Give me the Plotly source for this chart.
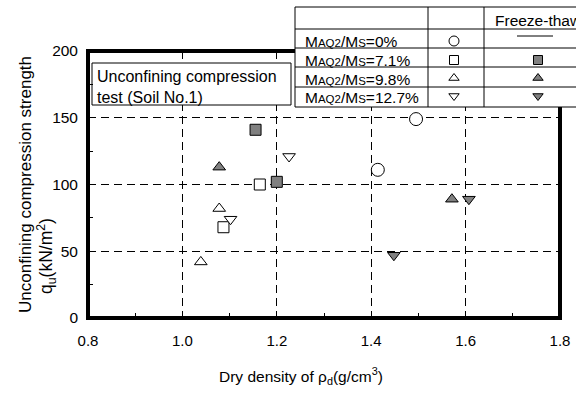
import plotly.graph_objects as go

# ---------------- data ----------------
x_0_unf = [1.495, 1.414]
y_0_unf = [149, 111]
x_71_unf = [1.164, 1.087]
y_71_unf = [100, 68]
x_71_ft = [1.155, 1.200]
y_71_ft = [141, 102]
x_98_unf = [1.078, 1.039]
y_98_unf = [82, 42]
x_98_ft = [1.078, 1.571]
y_98_ft = [113, 89]
x_127_unf = [1.102, 1.226]
y_127_unf = [74, 121]
x_127_ft = [1.607, 1.448]
y_127_ft = [89, 47]

row_labels = ["0%", "7.1%", "9.8%", "12.7%"]
x_range = [0.8, 1.8]
y_range = [0, 200]

# ---------------- layout geometry (pixels) ----------------
W, H = 576, 394
PL, PR, PT, PB = 88, 560, 51, 318
FONT = "Liberation Sans, Arial, sans-serif"
GRAY = "#808080"


def fx(x):  # pixel -> paper (whole figure, margins are zero)
    return x / W


def fy(y):
    return 1 - y / H


def dx(x):  # pixel -> data
    return x_range[0] + (x - PL) / (PR - PL) * (x_range[1] - x_range[0])


def dy(y):
    return y_range[0] + (PB - y) / (PB - PT) * (y_range[1] - y_range[0])


fig = go.Figure()


def add_series(xs, ys, symbol, fill, size, xa="x", ya="y"):
    fig.add_trace(go.Scatter(
        x=xs, y=ys, mode="markers", showlegend=False, cliponaxis=False,
        xaxis=xa, yaxis=ya,
        marker=dict(symbol=symbol, size=size, color=fill,
                    line=dict(color="black", width=1)),
    ))


add_series(x_0_unf, y_0_unf, "circle", "white", 13)
add_series(x_71_unf, y_71_unf, "square", "white", 11)
add_series(x_71_ft, y_71_ft, "square", GRAY, 11)
add_series(x_98_unf, y_98_unf, "triangle-up", "white", 11)
add_series(x_98_ft, y_98_ft, "triangle-up", GRAY, 11)
add_series(x_127_unf, y_127_unf, "triangle-down", "white", 11)
add_series(x_127_ft, y_127_ft, "triangle-down", GRAY, 11)

# ---------------- legend table ----------------
TL, TR, TT, TB = 295, 600, 7, 107
col_lines = [428, 484]
row_lines = [29, 48, 67, 87]
key_rows_y = [41, 60, 78, 96]
col2_x, col3_x = 454, 538

shapes = []
# white backgrounds covering gridlines
shapes.append(dict(type="rect", xref="x", yref="y", layer="between",
                   x0=dx(TL), x1=dx(TR), y0=dy(TB), y1=dy(TT),
                   fillcolor="white", line=dict(width=0)))
# text box
BL, BR, BT, BB = 92, 291, 63, 105
shapes.append(dict(type="rect", xref="x", yref="y", layer="between",
                   x0=dx(BL), x1=dx(BR), y0=dy(BB), y1=dy(BT),
                   fillcolor="white", line=dict(color="black", width=1)))
# table outline & grid
shapes.append(dict(type="rect", xref="paper", yref="paper", layer="above",
                   x0=fx(TL), x1=fx(TR), y0=fy(TB), y1=fy(TT),
                   line=dict(color="black", width=1)))
for c in col_lines:
    shapes.append(dict(type="line", xref="paper", yref="paper", layer="above",
                       x0=fx(c), x1=fx(c), y0=fy(TB), y1=fy(TT),
                       line=dict(color="black", width=1)))
for r in row_lines:
    shapes.append(dict(type="line", xref="paper", yref="paper", layer="above",
                       x0=fx(TL), x1=fx(TR), y0=fy(r), y1=fy(r),
                       line=dict(color="black", width=1)))
# freeze-thaw "none" dash for 0 %
shapes.append(dict(type="line", xref="paper", yref="paper", layer="above",
                   x0=fx(517), x1=fx(553), y0=fy(36), y1=fy(36),
                   line=dict(color="black", width=1)))
# thick plot frame (top stops at table, right starts below table)
path = (f"M {fx(TL)},{fy(PT)} L {fx(PL)},{fy(PT)} L {fx(PL)},{fy(PB)} "
        f"L {fx(PR)},{fy(PB)} L {fx(PR)},{fy(TB)}")
shapes.append(dict(type="path", xref="paper", yref="paper", layer="above",
                   path=path, line=dict(color="black", width=4)))

# legend keys (drawn on a full-figure helper axis pair, in pixels)
key_unf = [("circle", "white", 10), ("square", "white", 9),
           ("triangle-up", "white", 9), ("triangle-down", "white", 9)]
key_ft = [None, ("square", GRAY, 9), ("triangle-up", GRAY, 9),
          ("triangle-down", GRAY, 9)]
for i, ky in enumerate(key_rows_y):
    s, f, sz = key_unf[i]
    add_series([col2_x], [ky], s, f, sz, "x2", "y2")
    if key_ft[i] is not None:
        s, f, sz = key_ft[i]
        add_series([col3_x], [ky], s, f, sz, "x2", "y2")

annotations = []
for i, lab in enumerate(row_labels):
    txt = ("M<span style='font-size:11.5px'>AQ2</span>/M"
           "<span style='font-size:11.5px'>S</span>=" + lab)
    annotations.append(dict(x=fx(303), y=fy(key_rows_y[i] + 1), xref="paper",
                            yref="paper", xanchor="left", yanchor="middle",
                            text=txt, showarrow=False,
                            font=dict(size=15.5, family=FONT, color="black")))
annotations.append(dict(x=fx(493), y=fy(20), xref="paper", yref="paper",
                        xanchor="left", yanchor="middle", text="Freeze-thaw",
                        showarrow=False,
                        font=dict(size=15.5, family=FONT, color="black")))
annotations.append(dict(x=fx(95), y=fy(87), xref="paper", yref="paper",
                        xanchor="left", yanchor="middle", align="left",
                        text="Unconfining compression<br>test (Soil No.1)",
                        showarrow=False,
                        font=dict(size=16, family=FONT, color="black")))
# axis titles
annotations.append(dict(x=fx(301), y=fy(376), xref="paper", yref="paper",
                        xanchor="center", yanchor="middle",
                        text="Dry density of \u03c1<sub>d</sub>(g/cm<sup>3</sup>)",
                        showarrow=False,
                        font=dict(size=15.5, family=FONT, color="black")))
annotations.append(dict(x=fx(25), y=fy(185), xref="paper", yref="paper",
                        xanchor="center", yanchor="middle", textangle=-90,
                        text="Unconfining compression strength",
                        showarrow=False,
                        font=dict(size=17, family=FONT, color="black")))
annotations.append(dict(x=fx(47), y=fy(256), xref="paper", yref="paper",
                        xanchor="center", yanchor="middle", textangle=-90,
                        text="q<sub>u</sub>(kN/m<sup>2</sup>)",
                        showarrow=False,
                        font=dict(size=17.5, family=FONT, color="black")))

axis_common = dict(
    showline=False, zeroline=False, showgrid=True, gridcolor="black",
    gridwidth=1, griddash="8px,5px", ticks="inside", ticklen=5,
    tickwidth=1, tickcolor="black",
)

fig.update_layout(
    width=W, height=H,
    margin=dict(l=0, r=0, t=0, b=0, pad=0, autoexpand=False),
    plot_bgcolor="rgba(0,0,0,0)", paper_bgcolor="white",
    font=dict(family=FONT, color="black"),
    showlegend=False, hovermode=False,
    shapes=shapes, annotations=annotations,
    xaxis=dict(range=x_range, domain=[PL / W, PR / W], anchor="y",
               tick0=0.8, dtick=0.2, tickformat=".1f",
               ticklabelstandoff=12, automargin=False,
               tickfont=dict(size=15, family=FONT, color="black"),
               minor=dict(dtick=0.1, ticks="inside", ticklen=5,
                          tickcolor="black", showgrid=False),
               **axis_common),
    yaxis=dict(range=y_range, domain=[1 - PB / H, 1 - PT / H], anchor="x",
               tick0=0, dtick=50, ticklabelstandoff=9, automargin=False,
               tickfont=dict(size=15.5, family=FONT, color="black"),
               minor=dict(dtick=25, ticks="inside", ticklen=5,
                          tickcolor="black", showgrid=False),
               **axis_common),
    xaxis2=dict(range=[0, W], domain=[0, 1], anchor="y2", visible=False,
                fixedrange=True),
    yaxis2=dict(range=[H, 0], domain=[0, 1], anchor="x2", visible=False,
                fixedrange=True),
)

fig.write_html("out.html")
